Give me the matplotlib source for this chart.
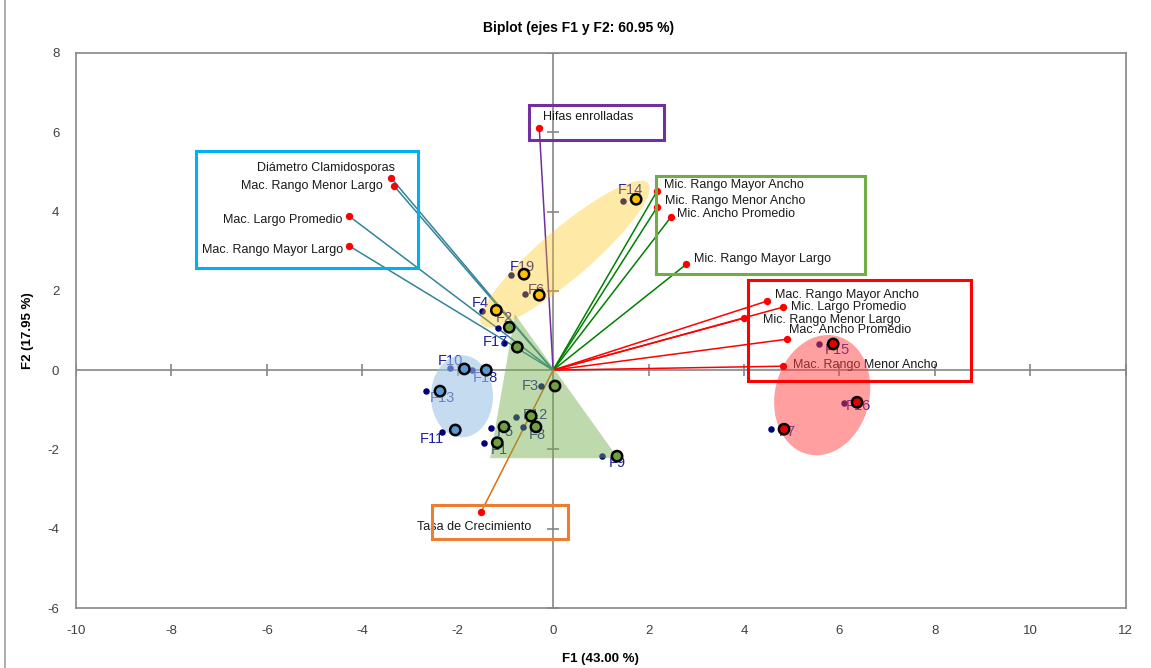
import matplotlib.pyplot as plt
from matplotlib.patches import Ellipse, Rectangle, Polygon
from matplotlib.lines import Line2D

plt.rcParams['font.family'] = ['Liberation Sans', 'DejaVu Sans']

# variables (loadings on F1 / F2)
var_names = ['Hifas enrolladas', 'Diámetro Clamidosporas', 'Mac. Rango Menor Largo',
             'Mac. Largo Promedio', 'Mac. Rango Mayor Largo', 'Mic. Rango Mayor Ancho',
             'Mic. Rango Menor Ancho', 'Mic. Ancho Promedio', 'Mic. Rango Mayor Largo',
             'Mac. Rango Mayor Ancho', 'Mic. Largo Promedio', 'Mic. Rango Menor Largo',
             'Mac. Ancho Promedio', 'Mac. Rango Menor Ancho', 'Tasa de Crecimiento']
var_x = [-0.29, -3.39, -3.33, -4.27, -4.27, 2.18, 2.18, 2.47, 2.79,
         4.48, 4.82, 4.00, 4.90, 4.82, -1.51]
var_y = [6.10, 4.84, 4.64, 3.88, 3.13, 4.52, 4.11, 3.86, 2.67,
         1.74, 1.59, 1.31, 0.78, 0.10, -3.58]
var_col = ['#7030A0', '#31849B', '#31849B', '#31849B', '#31849B', '#008000',
           '#008000', '#008000', '#008000', '#FF0000', '#FF0000', '#FF0000',
           '#FF0000', '#FF0000', '#E46C0A']
# label offsets in pixels and alignment
var_off = [(4, 11), (4, 10), (-11, 0), (-7, -4), (-6, -4), (7, 6), (8, 6), (6, 3),
           (8, 5), (8, 6), (8, 0), (19, -2), (2, 9), (10, 1), (-7, -15)]
var_ha = ['left', 'right', 'right', 'right', 'right', 'left', 'left', 'left',
          'left', 'left', 'left', 'left', 'left', 'left', 'center']

# observations (scores)
obs_names = ['F1', 'F2', 'F3', 'F4', 'F5', 'F6', 'F7', 'F8', 'F9', 'F10',
             'F11', 'F12', 'F13', 'F14', 'F15', 'F16', 'F17', 'F18', 'F19']
obs_x = [-1.44, -1.15, -0.25, -1.49, -1.30, -0.59, 4.57, -0.63, 1.03, -2.16,
         -2.33, -0.78, -2.66, 1.47, 5.57, 6.10, -1.03, -1.70, -0.88]
obs_y = [-1.85, 1.06, -0.40, 1.49, -1.46, 1.92, -1.49, -1.43, -2.17, 0.05,
         -1.56, -1.18, -0.53, 4.26, 0.66, -0.83, 0.68, 0.00, 2.40]
obs_off = [(15, -7), (6, 10), (-11, 0), (-2, 8), (14, -4), (11, 4), (16, -3), (14, -8),
           (15, -7), (0, 7), (-10, -7), (19, 2), (16, -7), (7, 11), (18, -6),
           (14, -3), (-9, 1), (13, -8), (11, 8)]

# group centres drawn as outlined circles
grp_x = [-1.17, -0.92, 0.04, -1.19, -1.03, -0.29, 4.84, -0.36, 1.34, -1.86,
         -2.05, -0.46, -2.37, 1.74, 5.87, 6.37, -0.75, -1.40, -0.61]
grp_y = [-1.83, 1.08, -0.40, 1.51, -1.43, 1.89, -1.49, -1.43, -2.17, 0.03,
         -1.51, -1.16, -0.53, 4.31, 0.66, -0.81, 0.58, 0.00, 2.42]
grp = ['g', 'g', 'g', 'y', 'g', 'y', 'r', 'g', 'g', 'b',
       'b', 'g', 'b', 'y', 'r', 'r', 'g', 'b', 'y']
grp_col = {'y': '#FFC000', 'g': '#70A040', 'b': '#5B9BD5', 'r': '#E00000'}

fig = plt.figure(figsize=(11.51, 6.68), dpi=100)
ax = fig.add_axes([0.066, 0.0898, 0.912, 0.8309])
ax.set_xlim(-10, 12)
ax.set_ylim(-6, 8)

xt = list(range(-10, 13, 2))
yt = list(range(-6, 9, 2))
ax.set_xticks(xt)
ax.set_yticks(yt)
ax.set_xticklabels([str(v) for v in xt])
ax.set_yticklabels([str(v) for v in yt])
ax.tick_params(length=0, labelsize=9.5, colors='#404040', pad=12)
for s in ax.spines.values():
    s.set_color('#868686')
    s.set_linewidth(1.2)

# zero lines with small cross ticks
ax.axhline(0, color='#868686', lw=1.2, zorder=1)
ax.axvline(0, color='#868686', lw=1.2, zorder=1)
ax.plot([v for v in xt if v != 0], [0] * (len(xt) - 1), ls='none', marker='|',
        ms=8, mew=1.2, color='#868686', zorder=1)
ax.plot([0] * (len(yt) - 1), [v for v in yt if v != 0], ls='none', marker='_',
        ms=8, mew=1.2, color='#868686', zorder=1)

# vectors
for x, y, c in zip(var_x, var_y, var_col):
    ax.plot([0, x], [0, y], color=c, lw=1.1, zorder=2)
for name, x, y, off, ha in zip(var_names, var_x, var_y, var_off, var_ha):
    ax.annotate(name, (x, y), xytext=off, textcoords='offset pixels',
                ha=ha, va='center', fontsize=9, color='#1a1a1a', zorder=2)

# observations
ax.scatter(obs_x, obs_y, s=22, color='#00007A', zorder=2, linewidths=0)
for name, x, y, off in zip(obs_names, obs_x, obs_y, obs_off):
    ax.annotate(name, (x, y), xytext=off, textcoords='offset pixels',
                ha='center', va='center', fontsize=10.5, color='#1F1FA0', zorder=2)

# group shapes
ax.add_patch(Ellipse((0.25, 2.93), 5.0, 1.15, angle=46.3, facecolor='#FFC000',
                     alpha=0.35, edgecolor='none', zorder=3))
ax.add_patch(Ellipse((-1.91, -0.66), 1.30, 2.07, facecolor='#9DC3E6',
                     alpha=0.6, edgecolor='none', zorder=3))
ax.add_patch(Ellipse((5.64, -0.63), 1.99, 3.05, angle=-8, facecolor='#FF4040',
                     alpha=0.5, edgecolor='none', zorder=3))
ax.add_patch(Polygon([(-0.80, 1.41), (1.36, -2.22), (-1.32, -2.22)],
                     facecolor='#70AD47', alpha=0.45, edgecolor='none', zorder=3))

ax.scatter(grp_x, grp_y, s=55, c=[grp_col[g] for g in grp], edgecolors='black',
           linewidths=1.8, zorder=4)
ax.scatter(var_x, var_y, s=28, color='#FF0000', linewidths=0, zorder=5)

# boxes around variable groups
boxes = [((-7.48, 2.57), 4.65, 2.95, '#00B0F0'),
         ((-0.50, 5.80), 2.83, 0.89, '#7030A0'),
         ((2.16, 2.42), 4.38, 2.47, '#70AD47'),
         ((4.09, -0.28), 4.67, 2.55, '#FF0000'),
         ((-2.54, -4.26), 2.85, 0.85, '#ED7D31')]
for xy, w, h, c in boxes:
    ax.add_patch(Rectangle(xy, w, h, fill=False, edgecolor=c, lw=2.2, zorder=6))

fig.text(579 / 1151, 1 - 28 / 668, 'Biplot (ejes F1 y F2: 60.95 %)', ha='center',
         va='center', fontsize=10, fontweight='bold')
ax.set_xlabel('F1 (43.00 %)', fontsize=9.5, fontweight='bold', labelpad=12)
ax.set_ylabel('F2 (17.95 %)', fontsize=9.5, fontweight='bold', labelpad=10)

fig.add_artist(Line2D([5 / 1151, 5 / 1151], [0, 1], color='#A0A0A0', lw=1.2))

fig.savefig('out.png', dpi=100)
